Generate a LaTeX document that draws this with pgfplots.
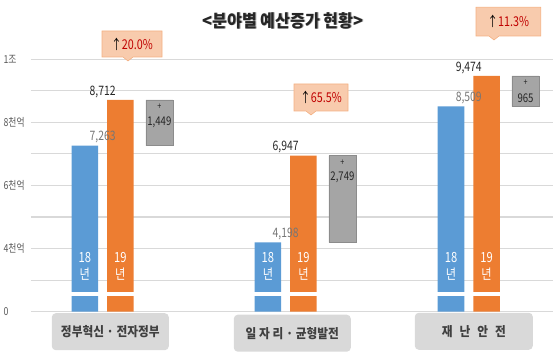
\documentclass[border=0pt]{standalone}
\usepackage{pgfplots}
\pgfplotsset{compat=1.18}
\usepackage{fontspec}
\setmainfont{Noto Sans CJK KR}[FakeStretch=0.8]
\newfontfamily\titlefont{Noto Sans CJK KR}[FakeStretch=0.92]
\newfontfamily\catfont{Noto Sans CJK KR}[FakeStretch=0.9]
\definecolor{b18}{HTML}{5B9BD5}
\definecolor{o19}{HTML}{ED7D31}
\definecolor{gdiff}{HTML}{A5A5A5}
\definecolor{gdiffb}{HTML}{8C8C8C}
\definecolor{gridc}{HTML}{D9D9D9}
\definecolor{tickc}{HTML}{595959}
\definecolor{lab18}{HTML}{767676}
\definecolor{lab19}{HTML}{262626}
\definecolor{callf}{HTML}{F8CBAD}
\definecolor{callb}{HTML}{F4B183}
\definecolor{pctred}{HTML}{C00000}
\definecolor{catbox}{HTML}{D9D9D9}
\definecolor{cattext}{HTML}{404040}
\tikzset{yrlab/.style={font=\fontsize{14}{17}\selectfont, text=white, align=center, yshift=45.2pt}}
\begin{document}
\begin{tikzpicture}
\begin{axis}[
  scale only axis, width=522pt, height=252.4pt,
  xmin=-0.391, xmax=2.460,
  ymin=0, ymax=10000,
  y coord trafo/.code={\begingroup\pgfkeys{/pgf/fpu=true,/pgf/fpu/output format=fixed}\pgfmathparse{(#1>=4000)*(2+(#1-4000)/1000)+(#1<4000)*(#1/2000)}\xdef\brktmp{\pgfmathresult}\endgroup\let\pgfmathresult\brktmp},
  axis line style={draw=none},
  major tick length=0pt,
  xtick=\empty,
  ytick={0,2000,4000,5000,6000,7000,8000,9000,10000},
  yticklabels={0,,4천억,,6천억,,8천억,,1조},
  ymajorgrids, grid style={gridc, line width=1.1pt},
  yticklabel style={anchor=west, xshift=-31pt, font=\fontsize{11}{13}\selectfont, text=tickc},
  clip=false,
]
\coordinate (TL) at (rel axis cs:0,1);
% 18년
\addplot[ybar, bar width=0.145, bar shift=-0.097, fill=b18, draw=none,
  visualization depends on={rawy\as\rawy},
  nodes near coords={\pgfmathprintnumber[fixed,precision=0,1000 sep={,},assume math mode=true]{\rawy}},
  every node near coord/.append style={font=\fontsize{13}{15}\selectfont, text=lab18, inner sep=1pt, yshift=1pt}]
  coordinates {(0,7263) (1,4198) (2,8509)};
% 19년
\addplot[ybar, bar width=0.145, bar shift=0.097, fill=o19, draw=none,
  visualization depends on={rawy\as\rawy},
  nodes near coords={\pgfmathprintnumber[fixed,precision=0,1000 sep={,},assume math mode=true]{\rawy}},
  every node near coord/.append style={font=\fontsize{13}{15}\selectfont, text=lab19, inner sep=1pt, yshift=1pt}]
  coordinates {(0,8712) (1,6947) (2,9474)};
% increase (floating) bars
\addplot[fill=gdiff, draw=gdiffb, line width=0.6pt] coordinates {(0.236,7263) (0.384,7263) (0.384,8712) (0.236,8712) (0.236,7263)};
\addplot[fill=gdiff, draw=gdiffb, line width=0.6pt] coordinates {(1.236,4198) (1.384,4198) (1.384,6947) (1.236,6947) (1.236,4198)};
\addplot[fill=gdiff, draw=gdiffb, line width=0.6pt] coordinates {(2.236,8509) (2.384,8509) (2.384,9474) (2.236,9474) (2.236,8509)};
% labels on floating bars
\node[font=\fontsize{9}{10}\selectfont, text=lab19] at (axis cs:0.31,8712) [yshift=-7pt] {+};
\node[font=\fontsize{12}{14}\selectfont, text=lab19] at (axis cs:0.31,8712) [yshift=-22pt] {1,449};
\node[font=\fontsize{9}{10}\selectfont, text=lab19] at (axis cs:1.31,6947) [yshift=-7pt] {+};
\node[font=\fontsize{12}{14}\selectfont, text=lab19] at (axis cs:1.31,6947) [yshift=-22pt] {2,749};
\node[font=\fontsize{9}{10}\selectfont, text=lab19] at (axis cs:2.31,9474) [yshift=-7pt] {+};
\node[font=\fontsize{12}{14}\selectfont, text=lab19] at (axis cs:2.31,9474) [yshift=-22pt] {965};
% year labels inside bars
\node[yrlab] at (axis cs:-0.097,0) {18\\년};
\node[yrlab] at (axis cs:0.097,0) {19\\년};
\node[yrlab] at (axis cs:0.903,0) {18\\년};
\node[yrlab] at (axis cs:1.097,0) {19\\년};
\node[yrlab] at (axis cs:1.903,0) {18\\년};
\node[yrlab] at (axis cs:2.097,0) {19\\년};
\end{axis}
\begin{scope}[shift={(TL)}, xshift=-31pt, yshift=59.3pt, x=1pt, y=-1pt]
\pgfresetboundingbox
\useasboundingbox (0,0) rectangle (560,355);
% axis break
\fill[white] (31,292.5) rectangle (553,296.5);
% title
\node[font=\titlefont\bfseries\fontsize{17.5}{20}\selectfont, text=black!35] at (284,21.3) {<분야별 예산증가 현황>};
\node[font=\titlefont\bfseries\fontsize{17.5}{20}\selectfont, text=lab19] at (283,20.5) {<분야별 예산증가 현황>};
% callouts
\filldraw[fill=callf, draw=callb, line width=0.6pt] (102,31) -- (162,31) -- (162,57) -- (133,57) -- (128,61) -- (123,57) -- (102,57) -- cycle;
\node[font=\fontsize{13.5}{15}\selectfont] at (132,44) {\textcolor{black}{↑}\textcolor{pctred}{20.0\%}};
\filldraw[fill=callf, draw=callb, line width=0.6pt] (294,84) -- (348,84) -- (348,111) -- (316,111) -- (311,115) -- (306,111) -- (294,111) -- cycle;
\node[font=\fontsize{13.5}{15}\selectfont] at (321,97.5) {\textcolor{black}{↑}\textcolor{pctred}{65.5\%}};
\filldraw[fill=callf, draw=callb, line width=0.6pt] (476,7.3) -- (540.7,7.3) -- (540.7,36) -- (499,36) -- (494,40) -- (489,36) -- (476,36) -- cycle;
\node[font=\fontsize{13.5}{15}\selectfont] at (508.3,21.6) {\textcolor{black}{↑}\textcolor{pctred}{11.3\%}};
% category boxes
\node[fill=catbox, rounded corners=4pt, minimum width=117pt, minimum height=37pt, inner sep=0pt, font=\catfont\bfseries\fontsize{13}{15}\selectfont, text=cattext] at (110.3,331.7) {정부혁신 · 전자정부};
\node[fill=catbox, rounded corners=4pt, minimum width=117pt, minimum height=37pt, inner sep=0pt, font=\catfont\bfseries\fontsize{13}{15}\selectfont, text=cattext] at (292.3,333.2) {일 자 리 · 균형발전};
\node[fill=catbox, rounded corners=4pt, minimum width=118pt, minimum height=37pt, inner sep=0pt, font=\catfont\bfseries\fontsize{13}{15}\selectfont, text=cattext] at (473.8,331.3) {재\hspace{7pt}난\hspace{7pt}안\hspace{7pt}전};
\end{scope}
\end{tikzpicture}
\end{document}
